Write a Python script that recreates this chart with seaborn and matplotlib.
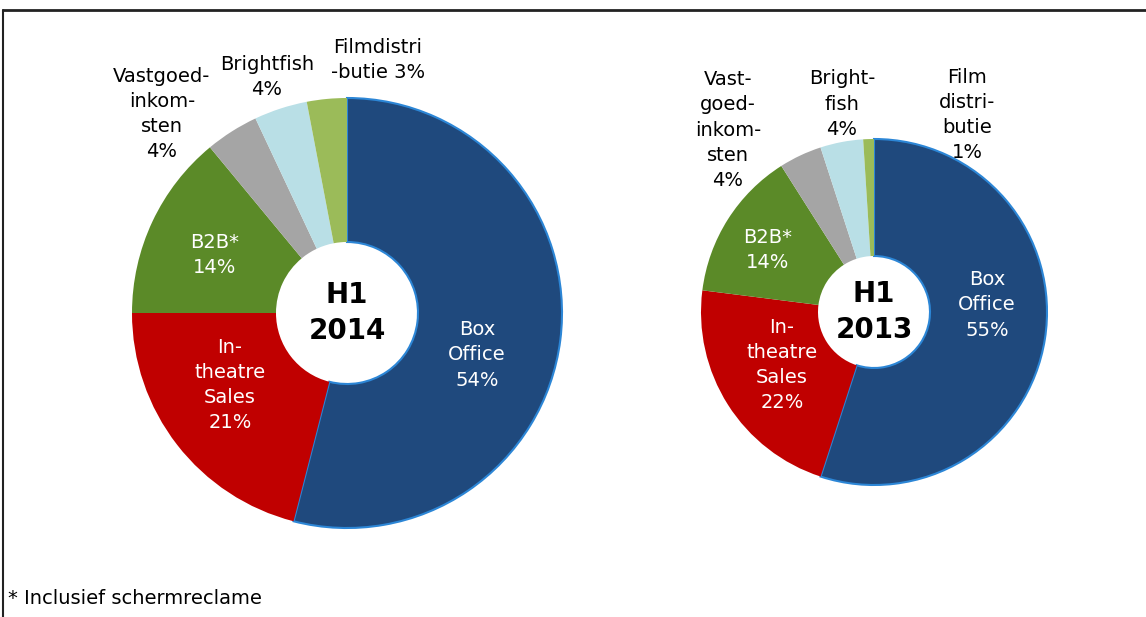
import matplotlib
matplotlib.use("Agg")
import matplotlib.pyplot as plt
import seaborn as sns
from matplotlib.lines import Line2D

sns.set_theme(style="white")
plt.rcParams['font.family'] = ['DejaVu Sans']
plt.rcParams['text.color'] = 'black'

# data
labels_2014 = ["Box\nOffice", "In-\ntheatre\nSales", "B2B*", "Vastgoed-\ninkom-\nsten", "Brightfish", "Filmdistri\n-butie"]
values_2014 = [54, 21, 14, 4, 4, 3]
labels_2013 = ["Box\nOffice", "In-\ntheatre\nSales", "B2B*", "Vast-\ngoed-\ninkom-\nsten", "Bright-\nfish", "Film\ndistri-\nbutie"]
values_2013 = [55, 22, 14, 4, 4, 1]
colors = sns.color_palette(["#1F497D", "#C00000", "#5B8A28", "#A5A5A5", "#B9DFE6", "#9BBB59"])
text_colors = ["white", "white", "white", "black", "black", "black"]

W, H = 1146, 617
fig = plt.figure(figsize=(W / 100, H / 100), dpi=100)
ax = fig.add_axes([0, 0, 1, 1])
ax.set_xlim(0, W)
ax.set_ylim(0, H)
ax.set_aspect('equal')
ax.axis('off')


def draw_donut(values, labels, center, radius, hole, title, label_pos):
    cx, cy = center
    wedges, _ = ax.pie(values, colors=colors, startangle=90, counterclock=False,
                       center=(cx, H - cy), radius=radius,
                       wedgeprops=dict(width=radius - hole, linewidth=0))
    wedges[0].set_edgecolor("#2c86d6")
    wedges[0].set_linewidth(1.5)
    for lab, val, pos, tc in zip(labels, values, label_pos, text_colors):
        # the 2014 film label keeps its percentage on the last line
        sep = " " if lab.endswith("-butie") and "distri\n" in lab else "\n"
        ax.text(pos[0], H - pos[1], f"{lab}{sep}{val}%", ha='center', va='center',
                fontsize=14, color=tc, linespacing=1.42)
    ax.text(cx, H - cy, title, ha='center', va='center', fontsize=20,
            fontweight='bold', color='black', linespacing=1.35)


draw_donut(values_2014, labels_2014, (347, 313), 215, 71, "H1\n2014",
           [(477, 355), (230, 385), (215, 255), (162, 114), (267, 77), (378, 60)])
draw_donut(values_2013, labels_2013, (874, 312), 173, 56, "H1\n2013",
           [(987, 305), (782, 365), (768, 250), (728, 130), (842, 104), (967, 115)])

ax.set_xlim(0, W)
ax.set_ylim(0, H)

# frame lines (top and left)
fig.add_artist(Line2D([3 / W, 1], [1 - 10 / H, 1 - 10 / H], color="#222222", lw=2))
fig.add_artist(Line2D([3 / W, 3 / W], [0, 1 - 10 / H], color="#222222", lw=1.5))

fig.text(8 / W, 1 - 598 / H, "* Inclusief schermreclame", fontsize=14,
         ha='left', va='center', color='black')

fig.savefig("out.png", dpi=100)
